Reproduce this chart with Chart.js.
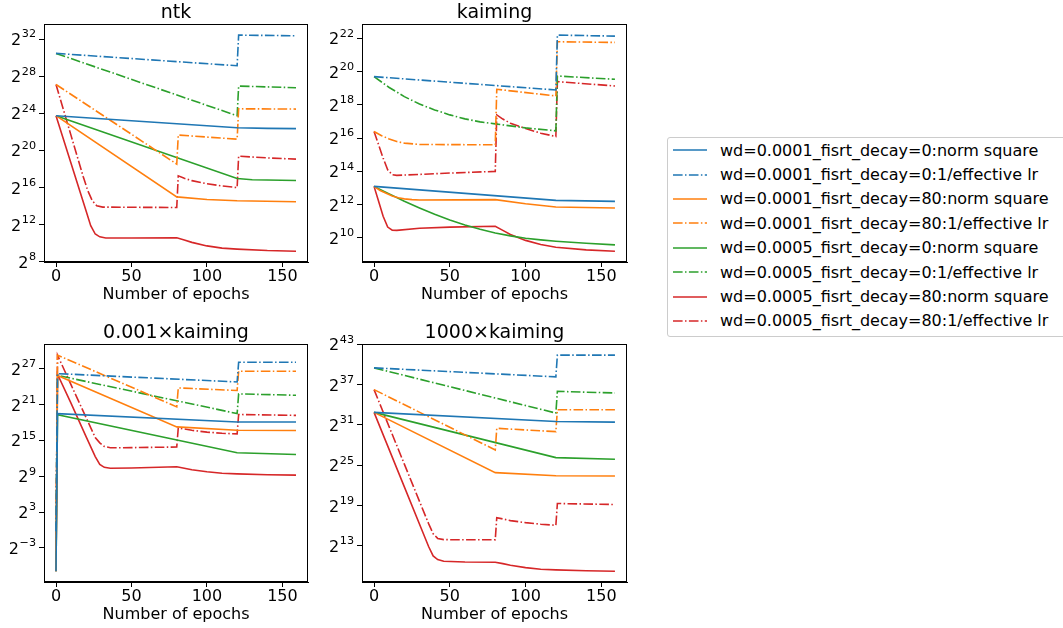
<!DOCTYPE html>
<html>
<head>
<meta charset="utf-8">
<script src="https://cdn.jsdelivr.net/npm/chart.js@4.4.1/dist/chart.umd.min.js"></script>
<style>
  html, body { margin: 0; padding: 0; background: #fff; overflow: hidden; }
  body { width: 1063px; height: 628px; position: relative; font-family: 'DejaVu Sans', sans-serif; }
  canvas.sub { position: absolute; }
  #legend { position: absolute; left: 667px; top: 137px; width: 430px; height: 200px;
            border: 1px solid #cccccc; border-radius: 3px; box-sizing: border-box; }
  .row { height: 24.4px; display: flex; align-items: center; font-size: 16px; white-space: nowrap; color: #000; }
  .row svg { margin-left: 5px; margin-right: 13px; flex: none; }
</style>
</head>
<body>
<canvas id="ntk" class="sub" width="318" height="310" style="left:0;top:0"></canvas>
<canvas id="kaiming" class="sub" width="318" height="310" style="left:318px;top:0"></canvas>
<canvas id="small" class="sub" width="318" height="310" style="left:0;top:320px"></canvas>
<canvas id="large" class="sub" width="318" height="310" style="left:318px;top:320px"></canvas>
<div id="legend"></div>
<script>
// values are log2 exponents, points are [epoch, log2(value)]
const seriesLabels = [
  'wd=0.0001_fisrt_decay=0:norm square',
  'wd=0.0001_fisrt_decay=0:1/effective lr',
  'wd=0.0001_fisrt_decay=80:norm square',
  'wd=0.0001_fisrt_decay=80:1/effective lr',
  'wd=0.0005_fisrt_decay=0:norm square',
  'wd=0.0005_fisrt_decay=0:1/effective lr',
  'wd=0.0005_fisrt_decay=80:norm square',
  'wd=0.0005_fisrt_decay=80:1/effective lr'
];
const seriesColors = ['#1f77b4', '#1f77b4', '#ff7f0e', '#ff7f0e', '#2ca02c', '#2ca02c', '#d62728', '#d62728'];

const epochFirst = 0;
const epochLast = 159;
const xTicks = [0, 50, 100, 150];

const ntkTicks = [8, 12, 16, 20, 24, 28, 32];
const ntkSeries = [
  [[0, 23.75], [120, 22.45], [140, 22.38], [159, 22.35]],
  [[0, 30.46], [120, 29.13], [121, 32.43], [159, 32.36]],
  [[0, 23.75], [80, 15.0], [100, 14.72], [120, 14.58], [159, 14.47]],
  [[0, 27.11], [80, 18.53], [81, 21.66], [120, 21.22], [121, 24.49], [159, 24.46]],
  [[0, 23.75], [120, 16.99], [130, 16.85], [159, 16.77]],
  [[0, 30.46], [120, 23.74], [121, 26.94], [159, 26.76]],
  [[0, 23.75], [10, 18.6], [20, 13.45], [23, 11.9], [26, 11.0], [29, 10.7], [33, 10.57], [50, 10.57], [80, 10.6],
   [85, 10.35], [90, 10.1], [100, 9.72], [110, 9.48], [120, 9.37], [140, 9.22], [159, 9.15]],
  [[0, 27.11], [10, 21.6], [18, 17.2], [21, 15.7], [24, 14.6], [27, 14.05], [31, 13.9], [50, 13.88], [80, 13.86],
   [81, 17.27], [85, 17.0], [90, 16.75], [100, 16.42], [110, 16.18], [120, 16.0], [121, 19.39], [140, 19.2], [159, 19.07]]
];

const kaimingTicks = [10, 12, 14, 16, 18, 20, 22];
const kaimingSeries = [
  [[0, 13.1], [120, 12.26], [159, 12.2]],
  [[0, 19.7], [120, 18.9], [121, 22.2], [159, 22.14]],
  [[0, 13.1], [4, 12.85], [8, 12.68], [12, 12.52], [16, 12.42], [20, 12.35], [25, 12.3], [30, 12.28], [80, 12.3],
   [100, 12.05], [120, 11.86], [159, 11.8]],
  [[0, 16.4], [5, 16.15], [10, 15.95], [15, 15.8], [20, 15.7], [30, 15.62], [80, 15.6], [81, 18.94], [120, 18.54],
   [121, 21.8], [159, 21.76]],
  [[0, 13.1], [10, 12.65], [20, 12.2], [30, 11.8], [40, 11.42], [50, 11.08], [60, 10.78], [70, 10.52], [80, 10.3],
   [90, 10.12], [100, 9.98], [110, 9.88], [120, 9.8], [140, 9.68], [159, 9.58]],
  [[0, 19.7], [10, 19.05], [20, 18.5], [30, 18.05], [40, 17.7], [50, 17.4], [60, 17.16], [70, 16.98], [80, 16.86],
   [100, 16.62], [120, 16.44], [121, 19.74], [159, 19.54]],
  [[0, 13.1], [3, 12.2], [6, 11.3], [9, 10.65], [12, 10.46], [15, 10.45], [30, 10.58], [50, 10.65], [80, 10.7],
   [85, 10.45], [90, 10.2], [100, 9.85], [110, 9.6], [120, 9.44], [140, 9.28], [159, 9.2]],
  [[0, 16.4], [3, 15.6], [6, 14.8], [9, 14.1], [12, 13.8], [15, 13.76], [30, 13.82], [50, 13.9], [80, 14.0],
   [81, 17.4], [85, 17.15], [90, 16.9], [100, 16.58], [110, 16.3], [120, 16.1], [121, 19.4], [159, 19.14]]
];

const smallTicks = [-3, 3, 9, 15, 21, 27];
const smallSeries = [
  [[0, -6.9], [1, 19.5], [120, 18.1], [159, 18.1]],
  [[0, -0.2], [1, 26.2], [120, 24.8], [121, 28.1], [159, 28.1]],
  [[0, -6.9], [1, 25.9], [80, 17.27], [120, 16.7], [159, 16.67]],
  [[0, -3.5], [1, 29.3], [80, 20.63], [81, 23.8], [120, 23.37], [121, 26.6], [159, 26.6]],
  [[0, -6.9], [1, 19.3], [120, 12.93], [159, 12.65]],
  [[0, -0.2], [1, 25.9], [120, 19.5], [121, 22.8], [159, 22.57]],
  [[0, -6.9], [1, 26.1], [10, 21.2], [20, 15.6], [26, 12.3], [29, 11.0], [32, 10.5], [36, 10.35], [50, 10.4],
   [80, 10.6], [85, 10.35], [90, 10.1], [100, 9.75], [110, 9.5], [120, 9.4], [140, 9.25], [159, 9.2]],
  [[0, -3.5], [1, 29.3], [10, 24.3], [20, 18.8], [26, 15.5], [29, 14.6], [32, 14.0], [36, 13.78], [50, 13.8],
   [80, 13.9], [81, 17.1], [90, 16.7], [100, 16.4], [110, 16.2], [120, 16.1], [121, 19.35], [159, 19.2]]
];

const largeTicks = [13, 19, 25, 31, 37, 43];
const largeSeries = [
  [[0, 32.87], [120, 31.52], [159, 31.42]],
  [[0, 39.5], [120, 38.16], [121, 41.4], [159, 41.4]],
  [[0, 32.87], [80, 23.9], [120, 23.44], [159, 23.4]],
  [[0, 36.26], [80, 27.28], [81, 30.5], [120, 30.0], [121, 33.27], [159, 33.27]],
  [[0, 32.87], [120, 26.13], [159, 25.88]],
  [[0, 39.5], [120, 32.77], [121, 36.0], [159, 35.76]],
  [[0, 32.87], [20, 21.77], [36, 12.9], [39, 11.5], [42, 10.95], [46, 10.7], [60, 10.6], [80, 10.56],
   [85, 10.35], [90, 10.1], [100, 9.75], [110, 9.52], [120, 9.42], [140, 9.28], [159, 9.22]],
  [[0, 36.26], [20, 25.16], [36, 16.3], [39, 14.8], [42, 14.1], [46, 13.92], [60, 13.9], [80, 13.9],
   [81, 17.2], [90, 16.75], [100, 16.45], [110, 16.22], [120, 16.05], [121, 19.3], [159, 19.15]]
];

const dashDot = [9.6, 2.4, 1.5, 2.4];

Chart.defaults.font.family = "'DejaVu Sans', sans-serif";
Chart.defaults.color = '#000';

// matplotlib draws all four spines
const frame = {
  id: 'frame',
  afterDraw(chart) {
    const { ctx, chartArea: a } = chart;
    const l = Math.round(a.left) + 0.5, t = Math.round(a.top) + 0.5;
    const r = Math.round(a.right) - 0.5, b = Math.round(a.bottom) - 0.5;
    ctx.save();
    ctx.strokeStyle = '#000';
    ctx.lineWidth = 1;
    ctx.strokeRect(l, t, r - l, b - t);
    ctx.restore();
  }
};

// y tick labels as 2 with a raised exponent, like mathtext
const powLabels = {
  id: 'powLabels',
  afterDraw(chart) {
    const { ctx } = chart;
    const y = chart.scales.y;
    const right = chart.chartArea.left - 8;
    ctx.save();
    ctx.fillStyle = '#000';
    ctx.textBaseline = 'alphabetic';
    ctx.textAlign = 'left';
    y.ticks.forEach(t => {
      const py = y.getPixelForValue(t.value);
      const exp = String(t.value).replace('-', '\u2212');
      ctx.font = "11.2px 'DejaVu Sans'";
      const ew = ctx.measureText(exp).width;
      ctx.fillText(exp, right - ew, py - 1.7);
      ctx.font = "16px 'DejaVu Sans'";
      const bw = ctx.measureText('2').width;
      ctx.fillText('2', right - ew - bw - 0.5, py + 6);
    });
    ctx.restore();
  }
};

function makeChart(id, title, series, yTicks, padRight) {
  const ys = series.flat().map(p => p[1]);
  const lo = Math.min(...ys), hi = Math.max(...ys);
  const ypad = (hi - lo) * 0.05;
  const xpad = (epochLast - epochFirst) * 0.05;

  new Chart(document.getElementById(id), {
    type: 'line',
    data: {
      datasets: series.map((pts, i) => ({
        label: seriesLabels[i],
        data: pts.map(p => ({ x: p[0], y: p[1] })),
        borderColor: seriesColors[i],
        borderWidth: 1.6,
        borderDash: i % 2 ? dashDot : [],
        pointRadius: 0,
        tension: 0,
        fill: false
      }))
    },
    options: {
      responsive: false,
      animation: false,
      layout: { padding: { left: 0, right: padRight, top: 0, bottom: 0 } },
      plugins: {
        legend: { display: false },
        tooltip: { enabled: false },
        title: {
          display: true,
          text: title,
          fullSize: false,
          color: '#000',
          font: { size: 19, weight: 'normal' },
          padding: { top: 1.5, bottom: 0 }
        }
      },
      scales: {
        x: {
          type: 'linear',
          min: epochFirst - xpad,
          max: epochLast + xpad,
          afterBuildTicks: s => { s.ticks = xTicks.map(v => ({ value: v })); },
          afterFit: s => { s.height = 48; },
          grid: { drawOnChartArea: false, drawTicks: true, tickLength: 5, color: '#000' },
          border: { color: '#000', width: 1 },
          ticks: { color: '#000', font: { size: 16 }, padding: 0, maxRotation: 0, autoSkip: false },
          title: { display: true, text: 'Number of epochs', color: '#000', font: { size: 16 }, padding: { top: 0, bottom: 5.4 } }
        },
        y: {
          type: 'linear',
          min: lo - ypad,
          max: hi + ypad,
          afterBuildTicks: s => { s.ticks = yTicks.map(v => ({ value: v })); },
          afterFit: s => { s.width = 44; },
          grid: { drawOnChartArea: false, drawTicks: true, tickLength: 5, color: '#000' },
          border: { color: '#000', width: 1 },
          ticks: { display: false, autoSkip: false }
        }
      }
    },
    plugins: [frame, powLabels]
  });
}

makeChart('ntk', 'ntk', ntkSeries, ntkTicks, 10);
makeChart('kaiming', 'kaiming', kaimingSeries, kaimingTicks, 9);
makeChart('small', '0.001×kaiming', smallSeries, smallTicks, 10);
makeChart('large', '1000×kaiming', largeSeries, largeTicks, 9);

// legend box on the right
const legend = document.getElementById('legend');
seriesLabels.forEach((label, i) => {
  const row = document.createElement('div');
  row.className = 'row';
  const dash = i % 2 ? ` stroke-dasharray="${dashDot.join(' ')}"` : '';
  row.innerHTML = `<svg width="34" height="10"><line x1="0" y1="5" x2="34" y2="5" stroke="${seriesColors[i]}" stroke-width="1.6"${dash}/></svg><span>${label}</span>`;
  legend.appendChild(row);
});
</script>
</body>
</html>
